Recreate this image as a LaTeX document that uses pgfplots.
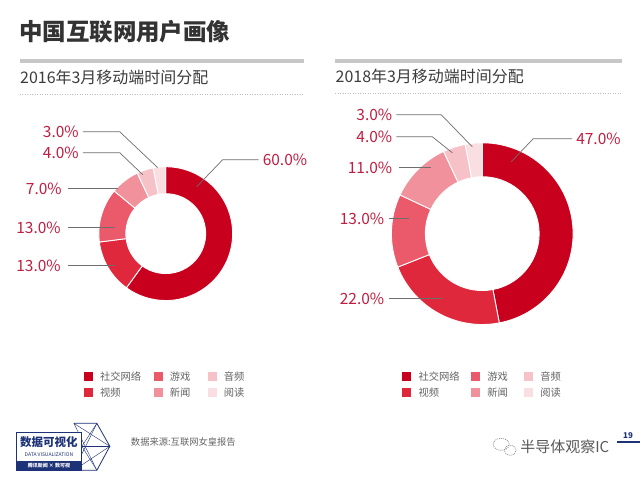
\documentclass[border=0pt]{standalone}
\usepackage{pgfplots}
\pgfplotsset{compat=1.18}
\usepackage{pgfplotstable}
\usepackage{fontspec}
\setmainfont{Noto Sans CJK SC}

\definecolor{c1}{RGB}{200,0,30}
\definecolor{c2}{RGB}{224,40,60}
\definecolor{c3}{RGB}{234,90,106}
\definecolor{c4}{RGB}{240,145,155}
\definecolor{c5}{RGB}{246,194,200}
\definecolor{c6}{RGB}{249,222,226}
\definecolor{lab}{RGB}{193,29,63}
\definecolor{ttl}{RGB}{51,51,51}
\definecolor{sub}{RGB}{60,60,60}
\definecolor{leg}{RGB}{100,100,100}
\definecolor{lead}{RGB}{110,110,110}
\definecolor{navy}{RGB}{30,50,120}

% 2016: share of mobile time (%), clockwise from top
\pgfplotstableread{
value color
60 c1
13 c2
13 c3
7 c4
4 c5
3 c6
}\dataA
% 2018
\pgfplotstableread{
value color
47 c1
22 c2
13 c3
11 c4
4 c5
3 c6
}\dataB

% #1 table, #2 cx, #3 cy, #4 rin, #5 rout
\newcommand\donut[5]{%
  \pgfplotstablegetrowsof{#1}%
  \pgfmathtruncatemacro\nrows{\pgfplotsretval-1}%
  \gdef\cum{0}%
  \foreach \i in {0,...,\nrows}{%
    \pgfplotstablegetelem{\i}{value}\of{#1}\let\v\pgfplotsretval
    \pgfplotstablegetelem{\i}{color}\of{#1}\let\c\pgfplotsretval
    \pgfmathsetmacro\a{90-3.6*\cum}%
    \pgfmathsetmacro\b{90-3.6*(\cum+\v)}%
    \pgfmathsetmacro\bb{\b+180}%
    \pgfmathsetmacro\d{#5-#4}%
    \edef\tmp{\noexpand\fill[\c,draw=white,line width=0.9pt] (axis cs:#2,#3) ++(\a:#5pt) arc[start angle=\a,end angle=\b,radius=#5pt] -- ++(\bb:\d pt) arc[start angle=\b,end angle=\a,radius=#4pt] -- cycle;}%
    \tmp
    \pgfmathsetmacro\t{\cum+\v}\xdef\cum{\t}%
  }%
}

\newcommand\leg[4]{%
  \fill[#3] (axis cs:#1,{#2-4.5}) rectangle (axis cs:{#1+9},{#2+4.5});
  \node[anchor=west,inner sep=0,text=leg,font=\fontsize{10.3}{12}\selectfont] at (axis cs:{#1+16},#2) {#4};
}
\newcommand\lab[3]{%
  \node[anchor=#3,inner sep=0,text=lab,font=\fontsize{15.5}{18}\selectfont] at (axis cs:#1,#2) {#3x};
}

\begin{document}
\begin{tikzpicture}
\begin{axis}[
  width=641pt, height=481pt, scale only axis,
  xmin=0, xmax=641, ymin=0, ymax=481, y dir=reverse,
  hide axis, clip=false]
\fill[white] (axis cs:0,0) rectangle (axis cs:641,481);

% titles
\node[anchor=west,inner sep=0,text=ttl,font=\fontsize{23.5}{28}\selectfont\bfseries] at (axis cs:19,32) {中国互联网用户画像};
\draw[black!22,line width=4pt] (axis cs:20,61) -- (axis cs:304,61);
\draw[black!22,line width=4pt] (axis cs:336,61) -- (axis cs:623,61);
\node[anchor=west,inner sep=0,text=sub,font=\fontsize{16}{19}\selectfont] at (axis cs:20,78) {2016年3月移动端时间分配};
\node[anchor=west,inner sep=0,text=sub,font=\fontsize{16}{19}\selectfont] at (axis cs:336,77) {2018年3月移动端时间分配};
\draw[black!25,line width=0.6pt,dash pattern=on 1pt off 1.5pt] (axis cs:20,94) -- (axis cs:304,94);
\draw[black!25,line width=0.6pt,dash pattern=on 1pt off 1.5pt] (axis cs:336,93) -- (axis cs:623,93);

% donuts
\donut{\dataA}{166}{234}{40}{67}
\donut{\dataB}{483}{234}{57}{91}

% leader lines 2016
\draw[lead,line width=0.7pt] (axis cs:197,187) -- (axis cs:223,160) -- (axis cs:259,160);
\draw[lead,line width=0.7pt] (axis cs:83,132) -- (axis cs:120,132) -- (axis cs:158,168);
\draw[lead,line width=0.7pt] (axis cs:83,153) -- (axis cs:120,153) -- (axis cs:143,175);
\draw[lead,line width=0.7pt] (axis cs:68,189) -- (axis cs:118,189);
\draw[lead,line width=0.7pt] (axis cs:68,228) -- (axis cs:115,228);
\draw[lead,line width=0.7pt] (axis cs:68,266) -- (axis cs:115,266);
\node[anchor=west,inner sep=0,text=lab,font=\fontsize{15.5}{18}\selectfont] at (axis cs:263,160) {60.0\%};
\node[anchor=east,inner sep=0,text=lab,font=\fontsize{15.5}{18}\selectfont] at (axis cs:79,132) {3.0\%};
\node[anchor=east,inner sep=0,text=lab,font=\fontsize{15.5}{18}\selectfont] at (axis cs:79,153) {4.0\%};
\node[anchor=east,inner sep=0,text=lab,font=\fontsize{15.5}{18}\selectfont] at (axis cs:62,189) {7.0\%};
\node[anchor=east,inner sep=0,text=lab,font=\fontsize{15.5}{18}\selectfont] at (axis cs:61,228) {13.0\%};
\node[anchor=east,inner sep=0,text=lab,font=\fontsize{15.5}{18}\selectfont] at (axis cs:61,266) {13.0\%};

% leader lines 2018
\draw[lead,line width=0.7pt] (axis cs:512,162) -- (axis cs:534,139) -- (axis cs:573,139);
\draw[lead,line width=0.7pt] (axis cs:397,115) -- (axis cs:442,115) -- (axis cs:473,147);
\draw[lead,line width=0.7pt] (axis cs:397,137) -- (axis cs:433,137) -- (axis cs:453,153);
\draw[lead,line width=0.7pt] (axis cs:400,168) -- (axis cs:432,168);
\draw[lead,line width=0.7pt] (axis cs:390,219) -- (axis cs:410,219);
\draw[lead,line width=0.7pt] (axis cs:390,299) -- (axis cs:443,299);
\node[anchor=west,inner sep=0,text=lab,font=\fontsize{15.5}{18}\selectfont] at (axis cs:577,139) {47.0\%};
\node[anchor=east,inner sep=0,text=lab,font=\fontsize{15.5}{18}\selectfont] at (axis cs:393,115) {3.0\%};
\node[anchor=east,inner sep=0,text=lab,font=\fontsize{15.5}{18}\selectfont] at (axis cs:393,137) {4.0\%};
\node[anchor=east,inner sep=0,text=lab,font=\fontsize{15.5}{18}\selectfont] at (axis cs:393,168) {11.0\%};
\node[anchor=east,inner sep=0,text=lab,font=\fontsize{15.5}{18}\selectfont] at (axis cs:385,219) {13.0\%};
\node[anchor=east,inner sep=0,text=lab,font=\fontsize{15.5}{18}\selectfont] at (axis cs:385,299) {22.0\%};

% legends
\leg{84}{377}{c1}{社交网络}
\leg{154}{377}{c3}{游戏}
\leg{208}{377}{c5}{音频}
\leg{84}{393}{c2}{视频}
\leg{154}{393}{c4}{新闻}
\leg{208}{393}{c6}{阅读}
\leg{403}{377}{c1}{社交网络}
\leg{472}{377}{c3}{游戏}
\leg{525}{377}{c5}{音频}
\leg{403}{393}{c2}{视频}
\leg{472}{393}{c4}{新闻}
\leg{525}{393}{c6}{阅读}

% footer logo
\draw[navy,line width=0.8pt] (axis cs:74,424) -- (axis cs:97,424) -- (axis cs:110,447) -- (axis cs:97,471) -- (axis cs:74,471);
\draw[navy,line width=0.4pt] (axis cs:74,424) -- (axis cs:110,447) -- (axis cs:74,471);
\draw[navy,line width=0.4pt] (axis cs:97,424) -- (axis cs:82,447) -- (axis cs:97,471);
\draw[navy,line width=0.4pt] (axis cs:74,424) -- (axis cs:97,471);
\draw[navy,line width=0.4pt] (axis cs:97,424) -- (axis cs:74,471);
\draw[navy,line width=0.4pt] (axis cs:82,447) -- (axis cs:110,447);
\fill[white] (axis cs:16,433) rectangle (axis cs:82,471);
\draw[navy,line width=0.9pt] (axis cs:16,433) rectangle (axis cs:82,471);
\fill[navy] (axis cs:16,462) rectangle (axis cs:82,471);
\node[inner sep=0,text=navy,font=\fontsize{11.5}{13}\selectfont\bfseries] at (axis cs:49,443) {数据可视化};
\node[inner sep=0,text=navy,font=\fontsize{5}{6}\selectfont] at (axis cs:49,455) {DATA VISUALIZATION};
\node[inner sep=0,text=white,font=\fontsize{5}{6}\selectfont\bfseries] at (axis cs:49,466.5) {腾讯新闻 × 数可视};
\node[anchor=west,inner sep=0,text=leg,font=\fontsize{9.3}{11}\selectfont] at (axis cs:131,443) {数据来源:互联网女皇报告};

% footer right
\draw[black!45,line width=0.7pt,dash pattern=on 1pt off 1pt] (axis cs:502,445) ellipse [x radius=8pt, y radius=6pt];
\draw[black!45,line width=0.7pt,dash pattern=on 1pt off 1pt] (axis cs:511,451) ellipse [x radius=6pt, y radius=5pt];
\node[anchor=west,inner sep=0,text=black!65,font=\fontsize{15}{18}\selectfont] at (axis cs:521,447) {半导体观察IC};
\node[inner sep=0,text=navy,font=\fontsize{8}{9}\selectfont\bfseries] at (axis cs:629,436) {19};
\draw[navy,line width=2pt] (axis cs:618,443) -- (axis cs:641,443);
\end{axis}
\end{tikzpicture}
\end{document}
